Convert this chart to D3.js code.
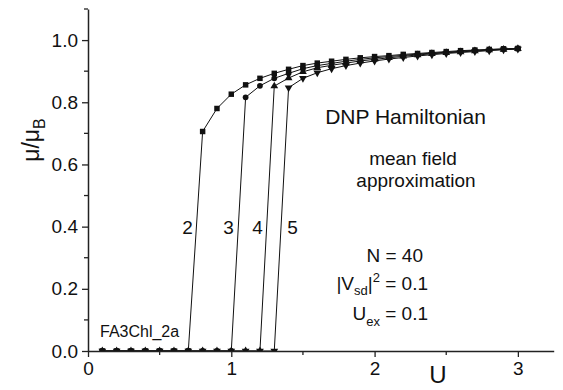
<!DOCTYPE html>
<html>
<head>
<meta charset="utf-8">
<script src="https://cdn.jsdelivr.net/npm/d3@7"></script>
<style>
  body { margin: 0; background: #fff; }
  text { font-family: "Liberation Sans", Arial, sans-serif; fill: #111; }
</style>
</head>
<body>
<svg id="chart" width="563" height="390"></svg>
<script>
// U values (x)
var uValues = [0.1, 0.2, 0.3, 0.4, 0.5, 0.6, 0.7, 0.8, 0.9, 1.0,
               1.1, 1.2, 1.3, 1.4, 1.5, 1.6, 1.7, 1.8, 1.9, 2.0,
               2.1, 2.2, 2.3, 2.4, 2.5, 2.6, 2.7, 2.8, 2.9, 3.0];

// mu / mu_B for each curve
var curve2 = [0, 0, 0, 0, 0, 0, 0, 0.706, 0.780, 0.826,
              0.856, 0.877, 0.893, 0.906, 0.918, 0.926, 0.932, 0.938, 0.943, 0.947,
              0.950, 0.954, 0.957, 0.960, 0.963, 0.966, 0.968, 0.970, 0.972, 0.973];
var curve3 = [0, 0, 0, 0, 0, 0, 0, 0, 0, 0,
              0.816, 0.853, 0.877, 0.893, 0.908, 0.918, 0.925, 0.932, 0.938, 0.943,
              0.947, 0.951, 0.955, 0.958, 0.961, 0.964, 0.967, 0.969, 0.971, 0.973];
var curve4 = [0, 0, 0, 0, 0, 0, 0, 0, 0, 0,
              0, 0, 0.852, 0.878, 0.898, 0.911, 0.919, 0.926, 0.933, 0.938,
              0.943, 0.948, 0.952, 0.956, 0.959, 0.962, 0.965, 0.968, 0.970, 0.972];
var curve5 = [0, 0, 0, 0, 0, 0, 0, 0, 0, 0,
              0, 0, 0, 0.847, 0.877, 0.895, 0.908, 0.918, 0.926, 0.933,
              0.939, 0.944, 0.949, 0.953, 0.957, 0.960, 0.963, 0.966, 0.969, 0.971];

var seriesList = [
  {values: curve2, symbol: d3.symbolSquare, size: 30},
  {values: curve3, symbol: d3.symbolCircle, size: 26},
  {values: curve4, symbol: d3.symbolTriangle, size: 26, rot: 0},
  {values: curve5, symbol: d3.symbolTriangle, size: 26, rot: 180}
];

var xMajor = [0, 1, 2, 3];
var xMinor = [0.5, 1.5, 2.5];
var yMajor = [0.0, 0.2, 0.4, 0.6, 0.8, 1.0];
var yMinor = [0.1, 0.3, 0.5, 0.7, 0.9, 1.1];

// curve number labels [text, U, value]
var curveLabels = [["2", 0.694, 0.376], ["3", 0.981, 0.376], ["4", 1.183, 0.376], ["5", 1.427, 0.376]];

var svg = d3.select('#chart');
var x = d3.scaleLinear().domain([0, 3.25]).range([88, 553.7]);
var y = d3.scaleLinear().domain([0, 1.1]).range([351, 9]);

svg.append('clipPath').attr('id', 'plot-clip')
  .append('rect')
  .attr('x', x(0)).attr('y', y(1.1) - 10)
  .attr('width', x(3.25) - x(0)).attr('height', y(0) - y(1.1) + 10);

var plot = svg.append('g').attr('clip-path', 'url(#plot-clip)');

var line = d3.line()
  .x(function(d) { return x(d[0]); })
  .y(function(d) { return y(d[1]); });

seriesList.forEach(function(s) {
  var pts = uValues.map(function(u, i) { return [u, s.values[i]]; });
  plot.append('path')
    .datum(pts)
    .attr('d', line)
    .attr('fill', 'none')
    .attr('stroke', '#111')
    .attr('stroke-width', 1);
});

seriesList.forEach(function(s) {
  var pts = uValues.map(function(u, i) { return [u, s.values[i]]; });
  plot.selectAll(null).data(pts).enter().append('path')
    .attr('d', d3.symbol().type(s.symbol).size(s.size))
    .attr('transform', function(d) {
      var t = 'translate(' + x(d[0]) + ',' + y(d[1]) + ')';
      if (s.rot) t += ' rotate(' + s.rot + ')';
      return t;
    })
    .attr('fill', '#111');
});

// axes
var xAxis = svg.append('g').attr('transform', 'translate(0,' + y(0) + ')');
xAxis.call(d3.axisBottom(x).tickValues(xMajor).tickFormat(d3.format('d')).tickSize(6).tickSizeOuter(0));
xAxis.append('g').selectAll('line').data(xMinor).enter().append('line')
  .attr('x1', function(d) { return x(d); }).attr('x2', function(d) { return x(d); })
  .attr('y1', 0).attr('y2', 4).attr('stroke', '#222').attr('stroke-width', 1.3);

var yAxis = svg.append('g').attr('transform', 'translate(' + x(0) + ',0)');
yAxis.call(d3.axisLeft(y).tickValues(yMajor).tickFormat(d3.format('.1f')).tickSize(6).tickSizeOuter(0));
yAxis.append('g').selectAll('line').data(yMinor).enter().append('line')
  .attr('y1', function(d) { return y(d); }).attr('y2', function(d) { return y(d); })
  .attr('x1', 0).attr('x2', -4).attr('stroke', '#222').attr('stroke-width', 1.3);

[xAxis, yAxis].forEach(function(a) {
  a.select('.domain').attr('stroke', '#222').attr('stroke-width', 1.5);
  a.selectAll('.tick line').attr('stroke', '#222').attr('stroke-width', 1.3);
  a.selectAll('.tick text')
    .style('font-family', '"Liberation Sans", Arial, sans-serif')
    .style('font-size', '19px').attr('fill', '#111');
});
xAxis.selectAll('.tick text').attr('dy', '0.95em').attr('y', 6);
yAxis.selectAll('.tick text').attr('x', -10);

// axis titles
svg.append('text')
  .attr('x', 438).attr('y', 383)
  .attr('text-anchor', 'middle')
  .style('font-size', '24px')
  .text('U');

var yTitle = svg.append('text')
  .attr('transform', 'translate(39,140) rotate(-90)')
  .attr('text-anchor', 'middle')
  .style('font-size', '23px');
yTitle.append('tspan').text('\u03bc/\u03bc');
yTitle.append('tspan').attr('dy', 6).style('font-size', '16px').text('B');

// curve numbers
svg.selectAll('.curve-label').data(curveLabels).enter().append('text')
  .attr('class', 'curve-label')
  .attr('x', function(d) { return x(d[1]); })
  .attr('y', function(d) { return y(d[2]); })
  .attr('text-anchor', 'middle')
  .style('font-size', '19px')
  .text(function(d) { return d[0]; });

// annotations
svg.append('text').attr('x', 405.5).attr('y', 124)
  .attr('text-anchor', 'middle').style('font-size', '21px')
  .text('DNP Hamiltonian');
svg.append('text').attr('x', 413).attr('y', 165)
  .attr('text-anchor', 'middle').style('font-size', '19px')
  .text('mean field');
svg.append('text').attr('x', 416).attr('y', 187)
  .attr('text-anchor', 'middle').style('font-size', '19px')
  .text('approximation');

svg.append('text').attr('x', 423).attr('y', 262)
  .attr('text-anchor', 'end').style('font-size', '19px')
  .text('N = 40');

var vLine = svg.append('text').attr('x', 428).attr('y', 290)
  .attr('text-anchor', 'end').style('font-size', '19px');
vLine.append('tspan').text('|V');
vLine.append('tspan').attr('dy', 5).style('font-size', '13px').text('sd');
vLine.append('tspan').attr('dy', -5).text('|');
vLine.append('tspan').attr('dy', -8).style('font-size', '13px').text('2');
vLine.append('tspan').attr('dy', 8).text(' = 0.1');

var uLine = svg.append('text').attr('x', 428).attr('y', 320)
  .attr('text-anchor', 'end').style('font-size', '19px');
uLine.append('tspan').text('U');
uLine.append('tspan').attr('dy', 6).style('font-size', '13px').text('ex');
uLine.append('tspan').attr('dy', -6).text(' = 0.1');

svg.append('text').attr('x', 100).attr('y', 337)
  .style('font-size', '16px')
  .text('FA3Chl_2a');
</script>
</body>
</html>
